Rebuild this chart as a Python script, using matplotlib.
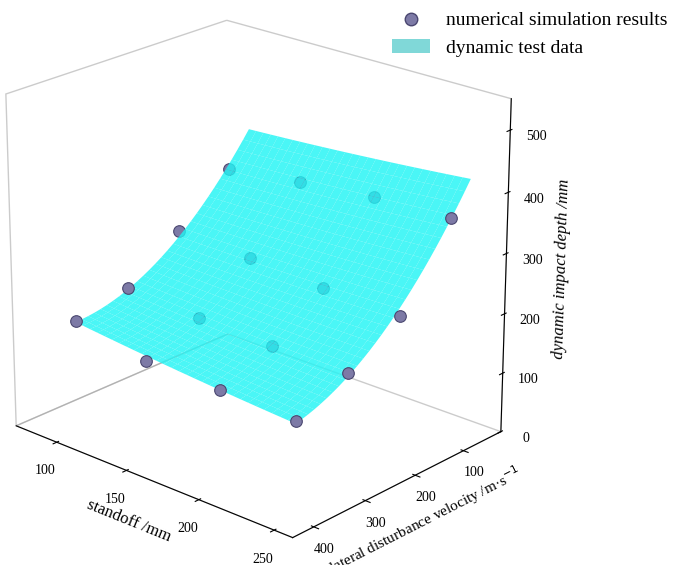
import numpy as np
import matplotlib.pyplot as plt
from matplotlib.patches import Patch
from matplotlib.lines import Line2D

plt.rcParams['font.family'] = 'Liberation Serif'

standoff = [100, 150, 200, 250]
velocity = [100, 200, 300, 400]
# rows: velocity, columns: standoff
depth = [[342, 358, 372, 375],
         [270, 264, 256, 252],
         [208, 200, 197, 197],
         [190, 166, 164, 160]]

S, V = np.meshgrid(standoff, velocity)
Z = np.array(depth, dtype=float)

# smooth quadratic surface fitted to the grid
A = np.column_stack([np.ones(S.size), S.ravel(), V.ravel(), S.ravel()**2, V.ravel()**2, (S*V).ravel()])
coef, *_ = np.linalg.lstsq(A, Z.ravel(), rcond=None)
sf, vf = np.meshgrid(np.linspace(100, 250, 30), np.linspace(60, 400, 30))
zf = coef[0] + coef[1]*sf + coef[2]*vf + coef[3]*sf**2 + coef[4]*vf**2 + coef[5]*sf*vf

# points on the front rim are drawn over the surface, the rest under it
front = (V == 400) | (S == 250) | ((V == 300) & (S == 100))

fig = plt.figure(figsize=(6.85, 5.65), dpi=100)
ax = fig.add_axes([-0.17, -0.01, 1.07, 1.05], projection='3d')
ax.computed_zorder = False
pt = dict(s=70, c='#7d7aa6', edgecolors='#4a4770', linewidths=0.8, depthshade=False)
# x = velocity, y = standoff
ax.scatter(V[~front], S[~front], Z[~front], zorder=1, **pt)
ax.plot_surface(vf, sf, zf, color='#22f4f4', alpha=0.82, linewidth=0, shade=False, zorder=2)
ax.scatter(V[front], S[front], Z[front], zorder=3, **pt)

ax.set_xlim(20, 440)
ax.set_ylim(70, 262)
ax.set_zlim(0, 550)
ax.set_box_aspect((3.4, 4, 3.8))
ax.set_xticks([100, 200, 300, 400])
ax.set_yticks([100, 150, 200, 250])
ax.set_zticks([0, 100, 200, 300, 400, 500])
ax.view_init(elev=22, azim=42)
ax.zaxis._axinfo['juggled'] = (1, 2, 0)
for a in (ax.xaxis, ax.yaxis, ax.zaxis):
    a.pane.fill = False
    a.pane.set_edgecolor('#999999')
    a._axinfo['grid']['linewidth'] = 0
ax.grid(False)
ax.set_ylabel('standoff /mm', fontsize=12, labelpad=0)
ax.set_xlabel('lateral disturbance velocity /m·s$^{-1}$', fontsize=11, labelpad=-2)
ax.set_zlabel('dynamic impact depth /mm', fontsize=12, fontstyle='italic')
ax.tick_params(labelsize=10)
ax.tick_params(axis='x', pad=0)

handles = [Line2D([], [], marker='o', ls='', markersize=9, markerfacecolor='#7d7aa6', markeredgecolor='#4a4770'),
           Patch(facecolor='#80d8d8')]
fig.legend(handles, ['numerical simulation results', 'dynamic test data'], loc='upper right',
           bbox_to_anchor=(1.0, 1.01), frameon=False, fontsize=14)
fig.savefig('out.png', dpi=100)
